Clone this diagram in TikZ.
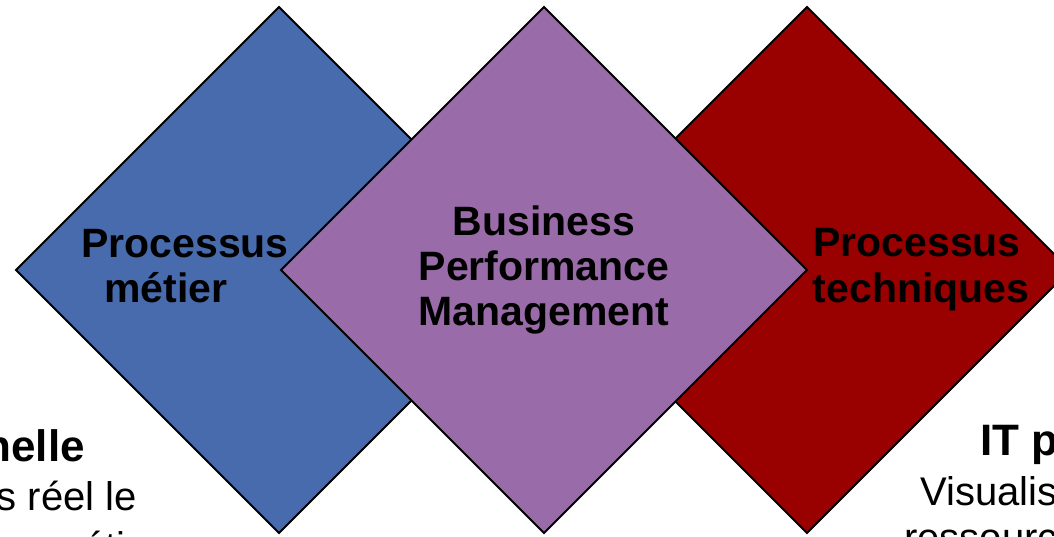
\documentclass[tikz,border=0pt]{standalone}
\usepackage{fontspec}
\setmainfont{Liberation Sans}
\definecolor{bluedia}{RGB}{72,107,174}
\definecolor{purpledia}{RGB}{153,107,168}
\definecolor{reddia}{RGB}{153,0,0}
\begin{document}
\begin{tikzpicture}[x=1pt,y=-1pt,
  dia/.style={draw=black, line width=2pt, line join=miter},
  title/.style={font=\fontsize{41}{45}\selectfont\bfseries, inner sep=0pt, anchor=base},
  head/.style={font=\fontsize{44}{48}\selectfont\bfseries, inner sep=0pt},
  body/.style={font=\fontsize{40}{46}\selectfont, inner sep=0pt}]
\useasboundingbox (0,0) rectangle (1054,536);
\clip (0,0) rectangle (1054,536);
% diamonds
\filldraw[dia, fill=bluedia] (279,7) -- (542,270) -- (279,533) -- (16,270) -- cycle;
\filldraw[dia, fill=reddia] (807,7) -- (1070,270) -- (807,533) -- (544,270) -- cycle;
\filldraw[dia, fill=purpledia] (544,7) -- (807,270) -- (544,533) -- (281,270) -- cycle;
% diamond labels
\node[title] (pm1) at (185,257) {Processus};
\node[title] (pm2) at (166,302) {métier};
\node[title] (bp1) at (544,235) {Business};
\node[title] (bp2) at (544,280) {Performance};
\node[title] (bp3) at (544,325) {Management};
\node[title] (pt1) at (917,256) {Processus};
\node[title] (pt2) at (921,302) {techniques};
% cut-off side texts
\node[head, anchor=base east] (lh) at (85,461) {nelle};
\node[body, anchor=base east] (lb1) at (137,510) {s réel le};
\node[body, anchor=base west] (lb2) at (50,560) {métier};
\node[head, anchor=base west] (rh) at (980,455) {IT p};
\node[body, anchor=base west] (rb1) at (920,505) {Visualis};
\node[body, anchor=base west] (rb2) at (904,551) {ressourc};
\end{tikzpicture}
\end{document}
